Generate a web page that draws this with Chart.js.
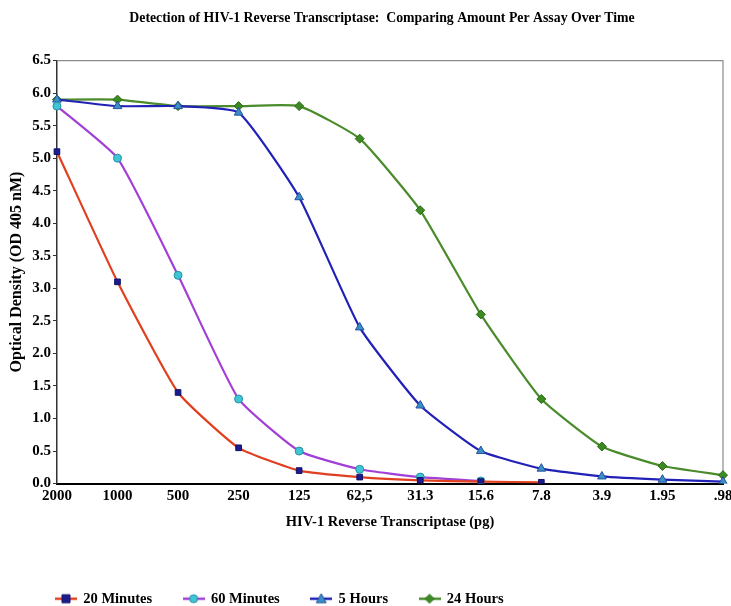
<!DOCTYPE html>
<html>
<head>
<meta charset="utf-8">
<script src="https://cdn.jsdelivr.net/npm/chart.js@4.4.0/dist/chart.umd.min.js"></script>
<style>
  html, body { margin: 0; padding: 0; background: #fff; }
  #wrap { width: 731px; height: 606px; }
</style>
</head>
<body>
<div id="wrap"><canvas id="odChart"></canvas></div>
<script>
// amounts of enzyme per assay (pg), as printed on the x axis
const amounts = ['2000', '1000', '500', '250', '125', '62,5', '31.3', '15.6', '7.8', '3.9', '1.95', '.98'];

// optical density
const min20 = [5.1, 3.1, 1.4, 0.55, 0.2, 0.1, 0.05, 0.03, 0.02, null, null, null];
const min60 = [5.8, 5.0, 3.2, 1.3, 0.5, 0.22, 0.1, 0.04, null, null, null, null];
const hours5 = [5.9, 5.8, 5.8, 5.7, 4.4, 2.4, 1.2, 0.5, 0.23, 0.11, 0.06, 0.03];
const hours24 = [5.9, 5.9, 5.8, 5.8, 5.8, 5.3, 4.2, 2.6, 1.3, 0.57, 0.27, 0.13];

const serif = "'Liberation Serif', 'Times New Roman', serif";

// small picture for the legend: line with marker in the middle
const legendIcon = (lineColor, style, fill, stroke) => {
    const c = document.createElement('canvas');
    c.width = 22; c.height = 12;
    const g = c.getContext('2d');
    g.strokeStyle = lineColor;
    g.lineWidth = 2.5;
    g.beginPath(); g.moveTo(0, 6); g.lineTo(22, 6); g.stroke();
    g.fillStyle = fill; g.strokeStyle = stroke; g.lineWidth = 1;
    g.beginPath();
    if (style === 'rect') g.rect(7, 2, 8, 8);
    else if (style === 'circle') g.arc(11, 6, 4, 0, Math.PI * 2);
    else if (style === 'triangle') { g.moveTo(11, 1); g.lineTo(16, 10); g.lineTo(6, 10); g.closePath(); }
    else { g.moveTo(11, 1.5); g.lineTo(15.5, 6); g.lineTo(11, 10.5); g.lineTo(6.5, 6); g.closePath(); }
    g.fill(); g.stroke();
    return c;
};

const series = [
    { label: '20 Minutes', data: min20, line: '#e0401f', style: 'rect', fill: '#1c1c8e', stroke: '#12126a', r: 4 },
    { label: '60 Minutes', data: min60, line: '#a23fd6', style: 'circle', fill: '#3fc6d6', stroke: '#2a8fa0', r: 4 },
    { label: '5 Hours', data: hours5, line: '#2121b8', style: 'triangle', fill: '#3a8fc6', stroke: '#24509e', r: 5 },
    { label: '24 Hours', data: hours24, line: '#4a8b2b', style: 'rectRot', fill: '#3c8a22', stroke: '#2a6a18', r: 4.5 }
];

// grey frame on top and right of plot
const frame = {
    id: 'frame',
    beforeDatasetsDraw(chart) {
        const { ctx, chartArea: a } = chart;
        ctx.save();
        ctx.strokeStyle = '#8c8c8c';
        ctx.lineWidth = 1.2;
        ctx.beginPath();
        ctx.moveTo(a.left, a.top);
        ctx.lineTo(a.right, a.top);
        ctx.lineTo(a.right, a.bottom);
        ctx.stroke();
        ctx.restore();
    }
};

// legend sits left of centre and a bit lower, title a bit right, in the original
const boxShift = {
    id: 'boxShift',
    afterLayout(chart) {
        chart.legend.left = 24.5;
        chart.legend.top += 12;
        chart.titleBlock.left += 17;
        chart.titleBlock.right += 17;
    }
};

new Chart(document.getElementById('odChart'), {
    type: 'line',
    data: {
        labels: amounts,
        datasets: series.map(s => ({
            label: s.label,
            data: s.data,
            borderColor: s.line,
            backgroundColor: s.fill,
            borderWidth: 2.2,
            pointStyle: s.style,
            pointRadius: s.r,
            pointBackgroundColor: s.fill,
            pointBorderColor: s.stroke,
            pointBorderWidth: 1,
            tension: 0.15,
            fill: false,
            spanGaps: false,
            legendIcon: legendIcon(s.line, s.style, s.fill, s.stroke)
        }))
    },
    options: {
        responsive: true,
        maintainAspectRatio: false,
        animation: false,
        layout: { padding: { left: 7, right: 8, top: 6, bottom: 2 } },
        plugins: {
            title: {
                display: true,
                text: 'Detection of HIV-1 Reverse Transcriptase:  Comparing Amount Per Assay Over Time',
                color: '#000',
                font: { family: serif, size: 13.8, weight: 'bold' },
                padding: { top: 4, bottom: 34 }
            },
            legend: {
                position: 'bottom',
                align: 'start',
                labels: {
                    color: '#000',
                    font: { family: serif, size: 14.5, weight: 'bold' },
                    padding: 31.5,
                    usePointStyle: true,
                    pointStyleWidth: 20,
                    generateLabels: chart => chart.data.datasets.map((d, i) => ({
                        text: d.label,
                        datasetIndex: i,
                        pointStyle: d.legendIcon,
                        fontColor: '#000',
                        hidden: false,
                        lineWidth: 0
                    }))
                }
            },
            tooltip: { enabled: false }
        },
        scales: {
            x: {
                offset: false,
                // last label is cut at the right edge in the original
                afterFit: scale => { scale.paddingRight = 0; },
                grid: { display: true, drawOnChartArea: false, drawTicks: false, color: '#000' },
                border: { display: true, color: '#000', width: 2 },
                ticks: {
                    color: '#000',
                    autoSkip: false,
                    maxRotation: 0,
                    padding: 4,
                    font: { family: serif, size: 15, weight: 'bold' }
                },
                title: {
                    display: true,
                    text: 'HIV-1 Reverse Transcriptase (pg)',
                    color: '#000',
                    font: { family: serif, size: 14.5, weight: 'bold' },
                    padding: { top: 4, bottom: 17 }
                }
            },
            y: {
                min: 0,
                max: 6.5,
                grid: { display: true, drawOnChartArea: false, tickLength: 4, color: '#333' },
                border: { display: true, color: '#333', width: 1.5 },
                ticks: {
                    stepSize: 0.5,
                    color: '#000',
                    padding: 2,
                    callback: v => v.toFixed(1),
                    font: { family: serif, size: 15, weight: 'bold' }
                },
                title: {
                    display: true,
                    text: 'Optical Density (OD 405 nM)',
                    color: '#000',
                    font: { family: serif, size: 16, weight: 'bold' },
                    padding: { top: 0, bottom: 4 }
                }
            }
        }
    },
    plugins: [frame, boxShift]
});
</script>
</body>
</html>
